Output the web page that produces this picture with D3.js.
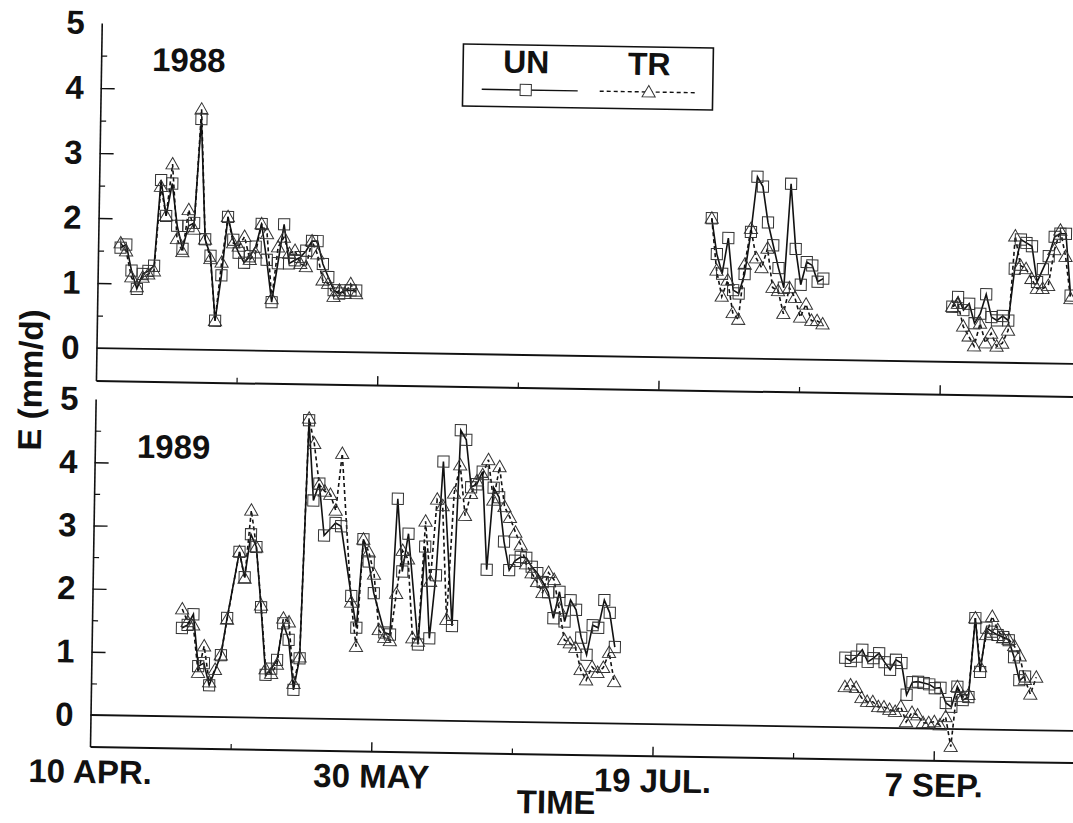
<!DOCTYPE html>
<html><head><meta charset="utf-8">
<script src="https://cdn.jsdelivr.net/npm/d3@7"></script>
<style>
body{margin:0;background:#fff}
text{font-family:"Liberation Sans",Arial,Helvetica,sans-serif;font-weight:bold;fill:#111}
</style></head><body>
<svg id="c" width="1073" height="823"></svg>
<script>
// ---- data (x = days after 10 April; y = E in mm/d) ----
const dateTickDays = [0, 50, 100, 150];
const dateTickLabels = ["10 APR.", "30 MAY", "19 JUL.", "7 SEP."];
const minorTickDays = [25, 75, 125];
const yMajorTicks = [0, 1, 2, 3, 4, 5];
const yMinorTicks = [0.5, 1.5, 2.5, 3.5, 4.5];
const seriesNames = ["UN", "TR"];

// 1988
const days88a = d3.range(4, 47);
const un88a = [1.55,1.6,1.2,0.92,1.15,1.2,1.28,2.6,2.05,2.55,1.9,1.55,1.9,1.95,3.55,1.7,1.45,0.45,1.15,2.05,1.7,1.5,1.35,1.45,1.6,1.95,1.4,0.75,1.35,1.95,1.35,1.4,1.45,1.55,1.7,1.7,1.35,1.15,0.95,0.9,0.95,0.95,0.95];
const tr88a = [1.62,1.5,1.1,0.95,1.1,1.15,1.2,2.5,2.05,2.85,1.7,1.5,2.15,1.85,3.7,1.7,1.4,0.45,1.35,2.05,1.65,1.6,1.75,1.4,1.5,1.95,1.8,0.8,1.6,1.75,1.5,1.55,1.35,1.3,1.7,1.5,1.1,1.05,0.85,0.95,0.9,1.05,0.9];
const days88b = d3.range(109, 130);
const un88b = [2.15,1.6,1.3,1.85,1.05,1.0,1.3,1.95,2.8,2.65,2.1,1.75,1.4,1.1,2.7,1.7,1.15,1.5,1.45,1.2,1.25];
const tr88b = [2.15,1.35,0.95,1.2,0.7,0.6,1.45,2.0,1.55,1.4,1.7,1.1,1.05,0.7,1.1,0.95,0.65,0.85,0.6,0.6,0.55];
const days88c = d3.range(152, 174);
const un88c = [0.85,1.0,0.8,0.9,0.6,0.75,1.05,0.7,0.65,0.72,0.65,1.45,1.9,1.85,1.8,1.25,1.45,1.65,1.95,2.0,2.0,1.05];
const tr88c = [0.85,0.9,0.55,0.4,0.25,0.6,0.3,0.45,0.25,0.3,0.5,1.95,1.5,1.45,1.3,1.15,1.15,1.2,1.75,2.05,1.65,1.0];

// 1989
const days89a = d3.range(16, 94);
const un89a = [1.4,1.45,1.62,0.8,0.85,0.5,null,0.98,1.57,null,2.62,2.22,2.9,2.7,1.75,0.68,0.78,0.92,1.5,1.24,0.45,0.95,4.72,3.45,3.72,2.9,null,3.1,3.05,null,1.95,1.45,2.85,2.5,2.0,null,1.38,1.35,3.5,2.35,2.95,null,1.2,2.75,1.3,2.3,4.1,null,1.5,4.6,4.45,3.7,3.75,3.95,2.4,3.7,3.55,2.85,2.4,2.55,2.61,2.6,2.46,2.36,2.22,2.06,1.65,2.07,1.6,1.94,1.79,1.35,1.08,1.55,1.51,1.95,1.75,1.21];
const tr89a = [1.7,1.5,1.45,0.7,1.12,0.55,0.75,0.98,1.55,null,2.62,2.2,3.28,2.7,1.78,0.77,0.7,0.85,1.58,1.52,0.55,0.97,4.75,4.35,3.7,3.6,3.55,3.3,4.2,null,1.85,1.15,2.85,2.65,2.3,1.42,1.3,1.25,2.0,2.68,2.55,1.3,1.25,3.15,2.2,3.5,3.4,1.6,3.6,4.05,3.25,3.6,3.8,3.9,4.14,3.5,4.03,3.4,3.23,3.0,2.8,2.5,2.36,2.22,2.05,2.37,2.26,1.8,1.31,1.26,1.19,0.84,0.68,0.89,0.8,0.88,1.12,0.66];
const days89b = d3.range(134, 169);
const un89b = [1.1,1.05,1.12,1.23,1.04,1.1,1.18,1.04,0.92,1.08,1.03,0.53,0.73,0.74,0.72,0.7,0.64,0.65,0.41,0.35,0.67,0.46,0.51,1.76,0.91,1.61,1.55,1.5,1.47,1.42,1.15,0.79,0.85,null,null];
const tr89b = [0.64,0.67,0.63,0.47,0.41,0.41,0.33,0.33,0.29,0.26,0.34,0.1,0.25,0.21,0.09,0.09,0.11,0.06,0.19,-0.28,0.67,0.51,0.55,1.76,0.99,1.5,1.79,1.58,1.45,1.43,1.33,1.17,0.8,0.57,0.84];

// ---- layout ----
const svg = d3.select("#c");
const g = svg.append("g").attr("transform", "rotate(0.93,90,747)");
const x = d3.scaleLinear().domain([0, 176]).range([90, 1080]);
const panels = [
  {label: "1988", y: d3.scaleLinear().domain([-0.5, 5]).range([380.5, 23]), lx: 141, ly: 70,
   segs: [[days88a, un88a, tr88a], [days88b, un88b, tr88b], [days88c, un88c, tr88c]], bottom: false},
  {label: "1989", y: d3.scaleLinear().domain([-0.5, 5]).range([746.6, 399]), lx: 132, ly: 457,
   segs: [[days89a, un89a, tr89a], [days89b, un89b, tr89b]], bottom: true}
];

const sq = d3.symbol().type(d3.symbolSquare).size(125);
const tri = d3.symbol().type(d3.symbolTriangle).size(75);

panels.forEach(p => {
  const y = p.y;
  const y0 = y.range()[0];
  const ax = g.append("g").attr("transform", "translate(90,0)")
    .call(d3.axisLeft(y).tickValues(yMajorTicks).tickSizeInner(-14).tickSizeOuter(0).tickPadding(17).tickFormat(d3.format("d")));
  ax.select(".domain").attr("stroke", "#111").attr("stroke-width", 1.6);
  ax.selectAll(".tick line").attr("stroke", "#111").attr("stroke-width", 1.4)
    .filter(d => d === 0 || d === 5).remove();
  ax.selectAll(".tick text").style("font-size", "33px").style("font-family", "'Liberation Sans',Arial,sans-serif").style("font-weight", "bold").attr("fill", "#111");
  const axm = g.append("g").attr("transform", "translate(90,0)")
    .call(d3.axisLeft(y).tickValues(yMinorTicks).tickSizeInner(-6).tickSizeOuter(0).tickFormat(""));
  axm.select(".domain").remove();
  axm.selectAll(".tick line").attr("stroke", "#111").attr("stroke-width", 1.2);

  const bx = g.append("g").attr("transform", `translate(0,${y0})`)
    .call(d3.axisBottom(x).tickValues(dateTickDays).tickSizeInner(-9).tickSizeOuter(0).tickPadding(13)
      .tickFormat((d, i) => p.bottom ? dateTickLabels[i] : ""));
  bx.select(".domain").attr("stroke", "#111").attr("stroke-width", 2);
  bx.selectAll(".tick line").attr("stroke", "#111").attr("stroke-width", 1.4).filter(d => d === 0).remove();
  bx.selectAll(".tick text").style("font-size", "33px").style("font-family", "'Liberation Sans',Arial,sans-serif").style("font-weight", "bold").attr("fill", "#111");
  const bxm = g.append("g").attr("transform", `translate(0,${y0})`)
    .call(d3.axisBottom(x).tickValues(minorTickDays).tickSizeInner(-5).tickSizeOuter(0).tickFormat(""));
  bxm.select(".domain").remove();
  bxm.selectAll(".tick line").attr("stroke", "#111").attr("stroke-width", 1.2);

  g.append("line").attr("x1", x(0)).attr("x2", x(176)).attr("y1", y(0)).attr("y2", y(0))
    .attr("stroke", "#111").attr("stroke-width", 1.8);

  g.append("text").attr("x", p.lx).attr("y", p.ly).style("font-size", "33px").text(p.label);

  p.segs.forEach(([days, un, tr]) => {
    const ptsUN = days.map((d, i) => [d, un[i]]).filter(v => v[1] !== null);
    const ptsTR = days.map((d, i) => [d, tr[i]]).filter(v => v[1] !== null);
    const line = d3.line().x(d => x(d[0])).y(d => y(d[1]));
    g.append("path").attr("d", line(ptsTR)).attr("fill", "none").attr("stroke", "#111")
      .attr("stroke-width", 1.6).attr("stroke-dasharray", "4,3");
    g.append("path").attr("d", line(ptsUN)).attr("fill", "none").attr("stroke", "#111")
      .attr("stroke-width", 1.6);
    g.append("g").selectAll("path").data(ptsUN).join("path")
      .attr("d", sq).attr("transform", d => `translate(${x(d[0])},${y(d[1])})`)
      .attr("fill", "none").attr("stroke", "#333").attr("stroke-width", 1);
    g.append("g").selectAll("path").data(ptsTR).join("path")
      .attr("d", tri).attr("transform", d => `translate(${x(d[0])},${y(d[1]) + 1})`)
      .attr("fill", "none").attr("stroke", "#333").attr("stroke-width", 1);
  });
});

g.append("text").attr("transform", "translate(36,381) rotate(-90)").attr("text-anchor", "middle")
  .style("font-size", "33px").text("E (mm/d)");
g.append("text").attr("x", 557).attr("y", 806).attr("text-anchor", "middle")
  .style("font-size", "33px").text("TIME");

const lg = g.append("g");
lg.append("rect").attr("x", 452).attr("y", 38).attr("width", 250).attr("height", 62)
  .attr("fill", "#fff").attr("stroke", "#111").attr("stroke-width", 1.6);
const legX = [[471, 567, 515], [589, 685, 638]];
seriesNames.forEach((name, i) => {
  const [a, b, c] = legX[i];
  lg.append("text").attr("x", c).attr("y", 66).attr("text-anchor", "middle").style("font-size", "32px").text(name);
  lg.append("line").attr("x1", a).attr("x2", b).attr("y1", 83).attr("y2", 83)
    .attr("stroke", "#111").attr("stroke-width", 1.4).attr("stroke-dasharray", i ? "4,3" : null);
  lg.append("path").attr("d", i ? tri() : sq()).attr("transform", `translate(${c},${83 + (i ? 1 : 0)})`)
    .attr("fill", "#fff").attr("stroke", "#333").attr("stroke-width", 1);
});
</script>
</body></html>
